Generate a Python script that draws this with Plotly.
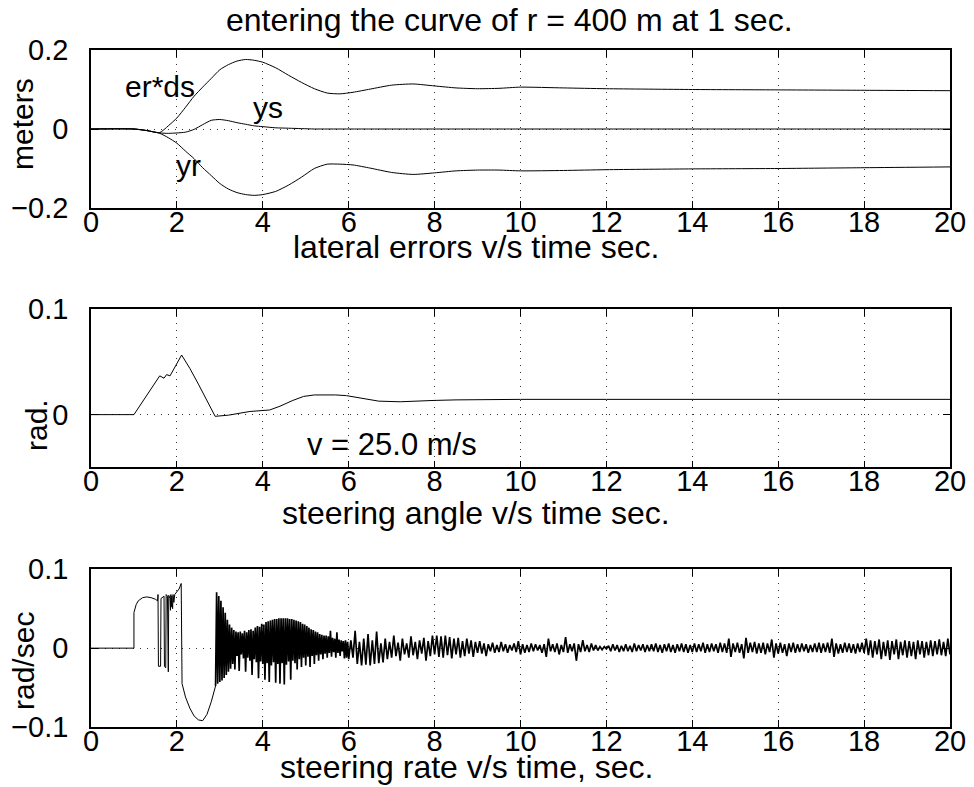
import numpy as np
import plotly.graph_objects as go

# ---------------- data ----------------
# top panel: lateral errors (m)
t_lat = [0, 1.0, 1.3, 1.6, 1.8, 2.0, 2.2, 2.4, 2.6, 2.8, 3.0, 3.2, 3.4, 3.6, 3.8, 4.0,
         4.3, 4.6, 4.9, 5.2, 5.5, 5.8, 6.1, 6.5, 7.0, 7.5, 8.0, 8.5, 9.0, 9.5, 10.0,
         11.0, 12.0, 14.0, 16.0, 18.0, 20.0]
er_ds = [0, 0, -0.004, -0.009, 0.008, 0.028, 0.055, 0.083, 0.106, 0.128, 0.150, 0.163,
         0.172, 0.176, 0.174, 0.169, 0.155, 0.136, 0.118, 0.102, 0.091, 0.089, 0.093,
         0.101, 0.111, 0.114, 0.109, 0.104, 0.102, 0.103, 0.106, 0.104, 0.102, 0.100,
         0.099, 0.098, 0.097]
yr = [0, 0, -0.004, -0.011, -0.022, -0.036, -0.056, -0.075, -0.098, -0.118, -0.138,
      -0.152, -0.161, -0.166, -0.168, -0.166, -0.158, -0.142, -0.122, -0.100, -0.089,
      -0.089, -0.091, -0.099, -0.110, -0.115, -0.111, -0.106, -0.104, -0.104, -0.106,
      -0.105, -0.103, -0.101, -0.100, -0.098, -0.096]
ys = [0, 0, -0.004, -0.010, -0.011, -0.010, -0.008, -0.001, 0.011, 0.022, 0.024, 0.021,
      0.016, 0.012, 0.008, 0.006, 0.003, 0.002, 0.001, 0, 0, 0, 0, 0, 0, 0, 0, 0, 0, 0,
      0, 0, 0, 0, 0, 0, 0]

# middle panel: steering angle (rad)
t_ang = [0, 1.0, 1.6, 1.65, 1.7, 1.76, 1.84, 2.11, 2.3, 2.5, 2.7, 2.89, 3.2, 3.5, 3.7,
         4.16, 4.4, 4.7, 4.95, 5.2, 5.45, 5.7, 5.95, 6.3, 6.7, 7.2, 7.6, 8.0, 8.5, 9.2,
         10, 12, 14, 16, 18, 20]
ang = [0, 0, 0.0368, 0.0355, 0.0346, 0.038, 0.0368, 0.0566, 0.044, 0.029, 0.013,
       -0.0016, -0.0005, 0.0012, 0.003, 0.0044, 0.008, 0.0135, 0.0173, 0.0187, 0.0189,
       0.0187, 0.018, 0.0155, 0.0128, 0.0122, 0.0125, 0.0135, 0.014, 0.0145, 0.0145,
       0.0145, 0.0145, 0.0145, 0.0145, 0.0145]

# bottom panel: steering rate (rad/s)
# start-up part (irregular samples)
t_rate_a = [0, 1.0, 1.0, 1.05, 1.1, 1.2, 1.3, 1.4, 1.5, 1.55, 1.56, 1.57, 1.62, 1.63,
            1.68, 1.70, 1.71, 1.74, 1.75, 1.78, 1.80, 1.81, 1.84, 1.85, 1.86, 1.87,
            1.88, 1.9, 1.91, 1.93, 1.95, 2.0, 2.05, 2.1, 2.12, 2.2, 2.3, 2.4, 2.5,
            2.6, 2.7, 2.8, 2.9]
rate_a = [0, 0, 0.045, 0.055, 0.060, 0.064, 0.065, 0.064, 0.062, 0.060, 0.068, -0.023,
          -0.023, 0.063, 0.065, 0.066, -0.023, -0.025, 0.068, 0.066, -0.030, 0.067,
          0.063, 0.048, 0.068, 0.052, 0.066, 0.050, 0.068, 0.058, 0.068, 0.071, 0.075,
          0.082, -0.045, -0.062, -0.076, -0.086, -0.091, -0.092, -0.084, -0.068, -0.048]
# oscillating part, samples every 0.025 s from 2.925 s
rate_b_t0 = 2.925
rate_b_dt = 0.025
rate_b = [0.071, -0.045, 0.066, -0.043, 0.060, -0.041, 0.052, -0.038, 0.045, -0.034,
          0.036, -0.030, 0.030, -0.026, 0.026, -0.020, 0.023, -0.027, 0.021, -0.010,
          0.020, -0.029, 0.021, -0.008, 0.019, -0.013, 0.022, -0.030, 0.020, -0.012,
          0.023, -0.016, 0.024, -0.034, 0.022, -0.014, 0.026, -0.018, 0.028, -0.038,
          0.027, -0.017, 0.031, -0.020, 0.030, -0.040, 0.033, -0.019, 0.034, -0.043,
          0.035, -0.022, 0.036, -0.018, 0.037, -0.044, 0.037, -0.020, 0.038, -0.045,
          0.038, -0.019, 0.038, -0.046, 0.038, -0.021, 0.038, -0.017, 0.037, -0.040,
          0.037, -0.016, 0.036, -0.019, 0.035, -0.027, 0.034, -0.014, 0.033, -0.024,
          0.031, -0.012, 0.030, -0.022, 0.028, -0.011, 0.026, -0.024, 0.024, -0.010,
          0.023, -0.020, 0.021, -0.009, 0.020, -0.016, 0.018, -0.008, 0.017, -0.014,
          0.016, -0.007, 0.016, -0.012, 0.015, -0.006, 0.022, -0.011, 0.013, -0.005,
          0.012, -0.012, 0.020, -0.006, 0.011, -0.010, 0.010, -0.004, 0.009, -0.013,
          0.010, -0.012, 0.008, -0.014]
# residual chatter, samples every 0.05 s from 6.05 s
rate_c_t0 = 6.05
rate_c_dt = 0.05
rate_c = [
    0.010, -0.012, 0.022, -0.020, 0.008, -0.022, 0.012, -0.021, 0.018, -0.022, 0.010, -0.020, 0.021, -0.019, 0.006, -0.018, 0.012, -0.014, 0.008, -0.012,
    0.016, -0.010, 0.007, -0.016, 0.012, -0.008, 0.006, -0.012, 0.015, -0.009, 0.008, -0.014, 0.010, -0.007, 0.013, -0.016, 0.009, -0.010, 0.016, -0.008,
    0.016, -0.011, 0.015, -0.012, 0.016, -0.009, 0.014, -0.013, 0.012, -0.008, 0.013, -0.012, 0.009, -0.010, 0.012, -0.007, 0.010, -0.011, 0.008, -0.006,
    0.009, -0.007, 0.006, -0.010, 0.005, -0.004, 0.007, -0.006, 0.004, -0.005, 0.008, -0.004, 0.005, -0.006, 0.004, -0.003, 0.006, -0.005, 0.009, -0.008,
    0.005, -0.006, 0.004, -0.005, 0.006, -0.004, 0.005, -0.003, 0.004, -0.006, 0.005, -0.011, 0.012, -0.004, 0.005, -0.005, 0.006, -0.008, 0.004, -0.005,
    0.014, -0.006, 0.005, -0.004, 0.006, -0.016, 0.005, -0.005, 0.010, -0.004, 0.004, -0.005, 0.006, -0.003, 0.004, -0.003, 0.002, -0.002, 0.002, -0.001,
    0.003, -0.004, 0.005, -0.003, 0.004, -0.005, 0.003, -0.004, 0.005, -0.004, 0.003, -0.005, 0.006, -0.004, 0.004, -0.003, 0.005, -0.005, 0.004, -0.004,
    0.005, -0.004, 0.006, -0.005, 0.004, -0.006, 0.005, -0.004, 0.006, -0.005, 0.004, -0.006, 0.005, -0.004, 0.006, -0.005, 0.005, -0.006, 0.004, -0.005,
    0.006, -0.005, 0.005, -0.004, 0.007, -0.006, 0.005, -0.005, 0.006, -0.004, 0.005, -0.006, 0.007, -0.005, 0.006, -0.006, 0.012, -0.011, 0.006, -0.005,
    0.007, -0.006, 0.005, -0.013, 0.013, -0.006, 0.007, -0.005, 0.008, -0.007, 0.006, -0.006, 0.007, -0.008, 0.006, -0.005, 0.011, -0.012, 0.006, -0.007,
    0.007, -0.006, 0.005, -0.010, 0.006, -0.005, 0.007, -0.006, 0.005, -0.005, 0.006, -0.004, 0.005, -0.006, 0.004, -0.005, 0.006, -0.005, 0.007, -0.006,
    0.006, -0.005, 0.007, -0.006, 0.012, -0.011, 0.006, -0.007, 0.005, -0.006, 0.007, -0.005, 0.006, -0.006, 0.005, -0.007, 0.006, -0.005, 0.007, -0.006,
    0.012, -0.009, 0.010, -0.012, 0.009, -0.008, 0.011, -0.014, 0.008, -0.010, 0.010, -0.015, 0.009, -0.008, 0.011, -0.014, 0.008, -0.009, 0.010, -0.012,
    0.009, -0.010, 0.008, -0.014, 0.010, -0.008, 0.009, -0.012, 0.008, -0.009, 0.010, -0.010, 0.009, -0.008, 0.011, -0.009, 0.008, -0.010, 0.012, -0.008,
]

x_ticks = [0, 2, 4, 6, 8, 10, 12, 14, 16, 18, 20]
y1_ticks = [-0.2, 0, 0.2]
y1_text = ["\u22120.2", "0", "0.2"]
y2_ticks = [0, 0.1]
y2_text = ["0", "0.1"]
y3_ticks = [-0.1, 0, 0.1]
y3_text = ["\u22120.1", "0", "0.1"]

# ---------------- figure ----------------
t_rate_b = list(rate_b_t0 + rate_b_dt * np.arange(len(rate_b)))
t_rate_c = list(rate_c_t0 + rate_c_dt * np.arange(len(rate_c)))
t_osc = [t_rate_a[-1]] + t_rate_b + t_rate_c
rate_osc = [rate_a[-1]] + rate_b + rate_c

FONT = "Liberation Sans, Arial, Helvetica, sans-serif"
line = dict(color="black", width=1)

fig = go.Figure()
for yv in (er_ds, ys, yr):
    fig.add_trace(go.Scatter(x=t_lat, y=yv, mode="lines",
                             line=dict(color="black", width=1, shape="spline", smoothing=0.6),
                             xaxis="x", yaxis="y", showlegend=False, hoverinfo="skip"))
fig.add_trace(go.Scatter(x=t_ang, y=ang, mode="lines", line=line, xaxis="x2", yaxis="y2",
                         showlegend=False, hoverinfo="skip"))
fig.add_trace(go.Scatter(x=t_rate_a, y=rate_a, mode="lines", line=line, xaxis="x3", yaxis="y3",
                         showlegend=False, hoverinfo="skip"))
fig.add_trace(go.Scatter(x=t_osc, y=rate_osc, mode="lines", line=dict(color="black", width=1.7),
                         xaxis="x3", yaxis="y3", showlegend=False, hoverinfo="skip"))

# plot area in pixels: x 91..950, y 50..727
L, R, T, B = 91, 24, 50, 60
W, H = 974, 787
PW, PH = W - L - R, H - T - B


def py(p):
    return (H - B - p) / PH


def px(p):
    return (p - L) / PW


GRID_DASH = "1px,6px"
xcommon = dict(range=[0, 20], tickvals=x_ticks, showline=True, linecolor="black", linewidth=1.5,
               mirror="ticks", ticks="inside", ticklen=7, tickcolor="black", tickwidth=1,
               showgrid=True, gridcolor="#333", griddash=GRID_DASH, gridwidth=1, zeroline=False,
               tickfont=dict(size=29, color="black", family=FONT), ticklabelstandoff=-13)
ycommon = dict(showline=True, linecolor="black", linewidth=1.5, mirror="ticks", ticks="inside",
               ticklen=7, tickcolor="black", tickwidth=1, showgrid=True, gridcolor="#333",
               griddash=GRID_DASH, gridwidth=1, zeroline=False,
               tickfont=dict(size=29, color="black", family=FONT), ticklabelstandoff=15)

fig.update_layout(
    width=W, height=H, margin=dict(l=L, r=R, t=T, b=B, autoexpand=False),
    paper_bgcolor="white", plot_bgcolor="white",
    font=dict(family=FONT, color="black", size=29),
    xaxis=dict(domain=[0, 1], anchor="y", **xcommon),
    yaxis=dict(domain=[py(208), py(50)], anchor="x", range=[-0.2, 0.2], tickvals=y1_ticks,
               ticktext=y1_text, **ycommon),
    xaxis2=dict(domain=[0, 1], anchor="y2", **xcommon),
    yaxis2=dict(domain=[py(467.3), py(309.3)], anchor="x2", range=[-0.05, 0.1],
                tickvals=y2_ticks, ticktext=y2_text, **ycommon),
    xaxis3=dict(domain=[0, 1], anchor="y3", **xcommon),
    yaxis3=dict(domain=[py(727), py(569.3)], anchor="x3", range=[-0.1, 0.1],
                tickvals=y3_ticks, ticktext=y3_text, **ycommon),
)

ann = []


def paper_text(text, x, y, size=30, angle=0):
    ann.append(dict(text=text, x=px(x), y=py(y), xref="paper", yref="paper", showarrow=False,
                    xanchor="center", yanchor="middle", textangle=angle,
                    font=dict(size=size, color="black", family=FONT)))


def data_text(text, x, y, xr, yr_, size=30):
    ann.append(dict(text=text, x=x, y=y, xref=xr, yref=yr_, showarrow=False,
                    xanchor="center", yanchor="middle",
                    font=dict(size=size, color="black", family=FONT)))


paper_text("entering the curve of r = 400 m at 1 sec.", 509, 20, size=32)
paper_text("lateral errors v/s time sec.", 476, 247, size=32)
paper_text("steering angle v/s time sec.", 476, 513, size=32)
paper_text("steering rate v/s time, sec.", 466, 767, size=32)
paper_text("meters", 23, 124, angle=-90)
paper_text("rad.", 36, 425, angle=-90)
paper_text("rad/sec", 23, 661, angle=-90)

data_text("er*ds", 1.6, 0.108, "x", "y")
data_text("ys", 4.11, 0.055, "x", "y")
data_text("yr", 2.27, -0.092, "x", "y")
data_text("v = 25.0 m/s", 7.0, -0.028, "x2", "y2", size=31)

fig.update_layout(annotations=ann)
fig.write_html("out.html", config={"displayModeBar": False},
               post_script="document.body.style.margin='0px';")
